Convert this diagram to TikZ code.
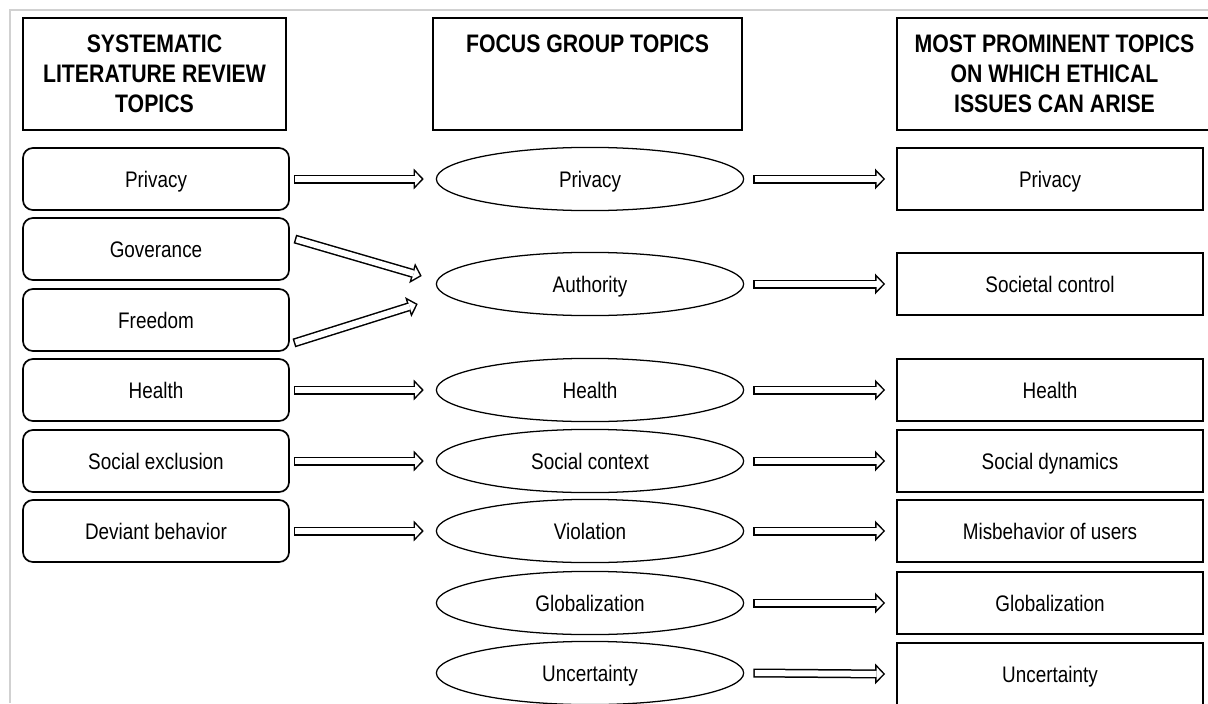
\documentclass[tikz,border=0pt]{standalone}
\usepackage{fontspec}
\setmainfont[FakeStretch=0.84]{Liberation Sans}
\usetikzlibrary{arrows, arrows.meta}
\usetikzlibrary{shapes.geometric}

\begin{document}
\begin{tikzpicture}[x=0.025cm, y=-0.025cm,
    headbox/.style={draw, line width=1.2pt, minimum height=2.8cm, align=center, font=\fontsize{18}{21.3}\selectfont\bfseries},
    lbox/.style={draw, rounded corners=0.25cm, line width=1.2pt, minimum width=6.65cm, minimum height=1.55cm, text height=11.4pt, text depth=0pt, font=\fontsize{16}{18}\selectfont},
    fgell/.style={ellipse, draw, line width=0.9pt, inner sep=0pt, minimum width=7.68cm, minimum height=1.58cm, text height=11.4pt, text depth=0pt, font=\fontsize{16}{18}\selectfont},
    rbox/.style={draw, line width=1.2pt, minimum width=7.65cm, minimum height=1.55cm, text height=11.4pt, text depth=0pt, font=\fontsize{16}{18}\selectfont},
    dblarrow/.style={line width=0.225cm, -{Triangle[length=0.25cm, width=0.52cm, line width=0pt]},
      postaction={draw=white, line width=0.15cm, shorten <=0.0375cm, shorten >=0.052cm, -{Triangle[length=0.16cm, width=0.33cm, line width=0pt]}}}]
      \useasboundingbox (0,0) rectangle (1208,703);
      \draw[black!18, line width=0.05cm] (10,703) -- (10,10) -- (1208,10);

      % column headers
      \node[headbox, minimum width=6.58cm] (slrhead) at (154.5,74) {SYSTEMATIC\\LITERATURE REVIEW\\TOPICS};
      \node[headbox, minimum width=7.72cm] (fghead) at (587.5,74) {FOCUS GROUP TOPICS\\~\\~};
      \node[headbox, minimum width=7.88cm] (ethead) at (1054.5,74) {MOST PROMINENT TOPICS\\ON WHICH ETHICAL\\ISSUES CAN ARISE};

      % literature review topics
      \node[lbox] (lpriv) at (156,179) {Privacy};
      \node[lbox] (lgov) at (156,249) {Goverance};
      \node[lbox] (lfree) at (156,320) {Freedom};
      \node[lbox] (lhealth) at (156,390) {Health};
      \node[lbox] (lsocial) at (156,461) {Social exclusion};
      \node[lbox] (ldev) at (156,531) {Deviant behavior};

      % focus group topics
      \node[fgell] (mpriv) at (590,179) {Privacy};
      \node[fgell] (mauth) at (590,284) {Authority};
      \node[fgell] (mhealth) at (590,390) {Health};
      \node[fgell] (msocial) at (590,461) {Social context};
      \node[fgell] (mviol) at (590,531) {Violation};
      \node[fgell] (mglob) at (590,603) {Globalization};
      \node[fgell] (munc) at (590,673) {Uncertainty};

      % ethical issue topics
      \node[rbox] (rpriv) at (1050,179) {Privacy};
      \node[rbox] (rcontrol) at (1050,284) {Societal control};
      \node[rbox] (rhealth) at (1050,390) {Health};
      \node[rbox] (rdyn) at (1050,461) {Social dynamics};
      \node[rbox] (rmis) at (1050,531) {Misbehavior of users};
      \node[rbox] (rglob) at (1050,603) {Globalization};
      \node[rbox] (runc) at (1050,674) {Uncertainty};

      \draw[dblarrow] ([xshift=0.1cm]lpriv.east) -- ([xshift=-0.3cm]mpriv.west);
      \draw[dblarrow] ([shift={(5,-10)}]lgov.east) -- ([shift={(-14,-8)}]mauth.west);
      \draw[dblarrow] ([shift={(4,23)}]lfree.east) -- ([shift={(-18,20)}]mauth.west);
      \draw[dblarrow] ([xshift=0.1cm]lhealth.east) -- ([xshift=-0.3cm]mhealth.west);
      \draw[dblarrow] ([xshift=0.1cm]lsocial.east) -- ([xshift=-0.3cm]msocial.west);
      \draw[dblarrow] ([xshift=0.1cm]ldev.east) -- ([xshift=-0.3cm]mviol.west);

      \draw[dblarrow] ([xshift=0.225cm]mpriv.east) -- ([xshift=-0.275cm]rpriv.west);
      \draw[dblarrow] ([xshift=0.225cm]mauth.east) -- ([xshift=-0.275cm]rcontrol.west);
      \draw[dblarrow] ([xshift=0.225cm]mhealth.east) -- ([xshift=-0.275cm]rhealth.west);
      \draw[dblarrow] ([xshift=0.225cm]msocial.east) -- ([xshift=-0.275cm]rdyn.west);
      \draw[dblarrow] ([xshift=0.225cm]mviol.east) -- ([xshift=-0.275cm]rmis.west);
      \draw[dblarrow] ([xshift=0.225cm]mglob.east) -- ([xshift=-0.275cm]rglob.west);
      \draw[dblarrow] ([xshift=0.225cm]munc.east) -- ([xshift=-0.275cm]runc.west);
    \end{tikzpicture}
\end{document}
